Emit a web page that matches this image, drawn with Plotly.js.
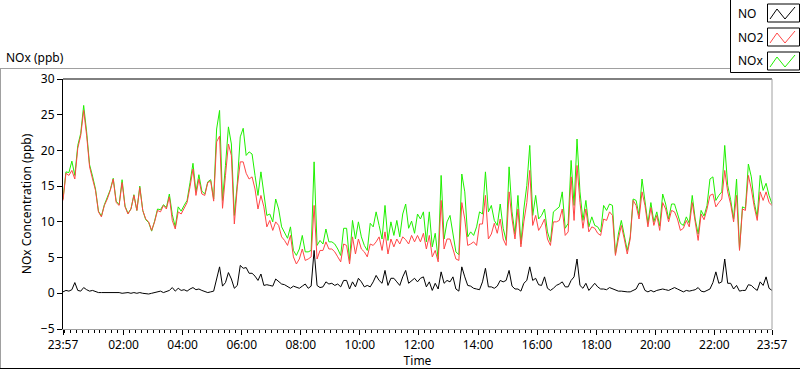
<!DOCTYPE html>
<html><head><meta charset="utf-8">
<script src="https://cdn.plot.ly/plotly-3.0.1.min.js"></script>
<style>html,body{margin:0;padding:0;background:#fff;overflow:hidden}#chart{width:800px;height:369px}</style>
</head><body><div id="chart"></div>
<script>
// ---- data (6-minute samples from 23:57 to 23:57 next day) ----
const startTime = Date.UTC(2000, 0, 1, 23, 57, 0);
const stepMinutes = 6;

const seriesNames = ['NO', 'NO2', 'NOx'];

const no = [
0.2,0.4,0.3,0.5,1.5,0.4,0.3,0.8,0.5,0.3,0.4,0.2,0.1,0.1,0.1,0.2,0.1,0.1,0.2,0.1,0.0,0.1,0.1,0.0,0.1,0.0,0.1,0.0,-0.1,-0.1,0.0,0.1,0.2,0.3,0.1,0.2,0.4,0.8,0.3,0.7,0.4,0.5,0.3,0.6,0.8,0.5,0.6,0.4,
0.2,0.1,0.2,0.3,2.0,3.7,1.0,1.5,2.9,2.0,0.7,1.1,3.9,3.5,3.6,2.8,2.8,2.4,1.8,2.7,1.1,1.2,1.1,1.0,2.0,1.7,1.3,1.2,1.0,0.7,1.0,0.8,0.7,1.0,1.3,0.7,1.0,6.0,1.1,0.8,0.9,1.6,1.3,1.4,1.1,1.3,0.9,1.8,
1.8,0.6,1.6,0.9,2.1,1.6,0.9,1.1,0.9,1.6,2.5,1.8,1.4,3.2,1.1,2.1,2.1,1.6,1.1,2.3,3.2,1.4,1.8,2.1,1.6,2.1,2.3,0.9,1.6,0.4,1.4,0.6,3.0,1.4,1.8,1.6,2.3,0.6,0.3,3.7,2.3,1.1,1.0,0.7,0.6,0.5,1.6,3.5,
0.9,0.9,0.7,1.0,1.8,1.6,1.8,3.2,1.0,0.6,0.6,0.3,1.4,1.8,3.7,1.8,2.1,1.2,1.1,2.3,0.7,0.4,0.7,1.1,1.3,1.6,0.9,0.9,1.8,2.3,4.8,1.1,0.7,1.4,0.4,0.9,1.4,0.9,0.6,0.6,0.5,0.8,0.6,0.4,0.3,0.3,0.2,0.2,
0.2,0.4,0.6,1.4,1.4,0.4,0.2,0.4,0.2,0.4,0.5,0.6,0.5,0.4,0.6,0.8,0.6,0.4,0.2,0.4,0.3,0.4,0.5,0.8,0.3,0.2,0.4,0.6,1.5,3.0,1.4,1.6,4.8,1.4,1.4,0.6,1.1,0.3,0.4,0.4,1.2,1.1,0.7,0.4,1.6,1.1,2.3,0.7,0.4
];

const no2 = [
13.0,16.8,16.5,17.2,16.0,20.3,22.1,25.6,22.1,17.7,16.0,14.4,11.4,10.7,12.3,13.2,14.4,16.0,12.7,12.3,15.5,12.1,11.1,11.8,13.7,11.6,14.8,11.6,10.4,10.0,8.8,10.0,11.6,11.4,12.3,11.8,13.5,10.2,9.0,11.4,11.1,11.8,12.7,14.9,17.4,13.7,16.0,13.9,
13.7,15.5,15.7,12.9,21.2,22.0,11.9,16.5,20.9,19.3,9.7,14.9,18.4,18.4,16.8,16.0,16.3,14.6,11.8,13.7,12.1,9.3,10.2,8.8,10.0,9.5,7.9,7.4,6.7,8.1,5.1,4.1,4.8,6.2,4.6,4.8,5.1,12.3,4.8,6.0,6.0,7.2,6.2,6.2,5.8,5.1,4.4,6.9,
6.7,4.1,7.9,5.5,7.6,6.2,5.8,5.1,6.9,6.7,7.2,7.9,6.0,8.6,5.5,7.6,6.5,7.6,6.9,7.9,7.5,6.9,8.1,7.2,8.1,7.2,8.4,6.2,8.1,5.1,6.0,4.4,13.0,6.2,7.6,7.6,6.2,4.8,4.6,12.7,10.4,6.7,6.9,7.2,6.7,9.7,9.7,13.7,
7.6,8.3,9.8,8.4,10.4,7.6,6.7,14.2,10.4,7.6,11.8,6.5,10.0,12.7,17.2,9.5,10.9,8.8,9.5,10.4,7.6,6.7,10.0,10.0,10.2,11.8,8.1,8.6,16.3,10.2,17.9,12.7,9.1,11.8,8.6,9.3,9.1,8.4,8.1,10.4,10.2,11.4,10.9,5.3,7.6,9.5,7.6,5.5,
7.6,13.0,12.3,10.4,14.2,12.3,9.3,12.0,9.5,10.9,8.8,12.7,11.8,10.0,11.6,11.4,10.4,8.8,9.1,10.2,9.3,12.7,10.0,7.4,11.1,10.3,11.8,13.7,13.9,12.1,12.7,13.2,17.2,14.2,12.5,10.0,13.7,6.0,11.8,11.6,16.5,14.6,12.1,10.2,14.2,13.0,14.2,12.7,12.3
];

const nox = [
13.2,17.0,16.9,18.5,16.5,20.7,22.4,26.3,22.6,18.0,16.4,14.6,11.5,10.8,12.4,13.4,14.5,16.1,12.9,12.4,15.9,12.2,11.2,11.8,13.8,11.6,15.0,11.6,10.3,9.9,8.7,10.1,11.8,11.7,12.4,12.0,13.9,11.0,9.3,12.1,11.5,12.3,13.0,15.5,18.2,14.2,16.6,14.3,
13.9,15.6,15.9,13.2,23.0,25.6,13.0,17.9,23.3,20.9,10.9,15.4,21.9,23.1,19.3,19.8,19.5,16.5,13.7,17.0,13.7,10.9,11.1,10.0,13.2,11.8,9.3,8.6,7.7,9.3,6.0,5.3,6.2,8.1,5.8,5.8,6.0,18.4,6.7,7.4,6.9,9.0,7.2,7.2,6.9,6.2,5.3,9.1,
9.1,4.6,10.2,7.6,10.0,7.9,6.7,6.0,9.8,9.3,11.4,9.5,7.6,12.3,7.4,10.0,8.1,10.2,7.9,11.1,12.5,9.1,10.1,8.4,11.1,10.4,11.4,7.2,11.4,6.5,8.4,4.8,16.5,7.6,10.0,10.9,8.1,5.8,5.4,16.7,14.2,7.9,8.6,8.1,9.3,11.4,11.1,17.0,
11.4,12.3,10.2,9.5,12.5,9.1,7.4,17.7,11.4,8.3,13.7,6.9,11.8,15.1,20.7,10.9,13.7,10.4,10.9,11.8,8.6,7.2,11.4,11.8,12.1,14.2,9.1,9.8,18.6,12.3,21.6,14.2,10.2,13.0,9.3,10.7,9.5,9.3,8.6,12.3,11.6,12.5,12.3,5.5,8.3,10.2,8.3,6.0,
7.9,13.2,13.0,10.9,16.0,13.0,9.8,12.7,10.0,11.4,9.4,13.9,12.5,10.4,12.5,12.5,11.1,9.8,9.5,10.7,9.8,13.7,10.4,8.3,11.6,10.8,12.3,16.0,16.3,13.0,13.7,14.2,20.7,15.1,13.1,10.4,16.0,6.2,12.1,11.9,18.1,16.3,12.7,10.7,16.5,14.4,15.4,13.7,12.5
];

const tickTimes = ['2000-01-01 23:57','2000-01-02 02:00','2000-01-02 04:00','2000-01-02 06:00','2000-01-02 08:00','2000-01-02 10:00','2000-01-02 12:00','2000-01-02 14:00','2000-01-02 16:00','2000-01-02 18:00','2000-01-02 20:00','2000-01-02 22:00','2000-01-02 23:57'];
const tickLabels = ['23:57','02:00','04:00','06:00','08:00','10:00','12:00','14:00','16:00','18:00','20:00','22:00','23:57'];
const yTicks = [-5, 0, 5, 10, 15, 20, 25, 30];

// ---- helpers ----
function fmt(ms) { return new Date(ms).toISOString().replace('T', ' ').slice(0, 19); }
const times = no.map((_, i) => fmt(startTime + i * stepMinutes * 60000));

const FONT = 'Noto Sans, Open Sans, sans-serif';
const L = 63, T = 79, W = 709, H = 250;
const px = x => (x - L) / W;
const py = y => (T + H - y) / H;

const colors = { NO: '#000000', NO2: '#ff4646', NOx: '#1ff000' };

const traces = [
  { x: times, y: nox, name: seriesNames[2], type: 'scatter', mode: 'lines', line: { color: colors.NOx, width: 1 }, hoverinfo: 'skip' },
  { x: times, y: no2, name: seriesNames[1], type: 'scatter', mode: 'lines', line: { color: colors.NO2, width: 1 }, hoverinfo: 'skip' },
  { x: times, y: no, name: seriesNames[0], type: 'scatter', mode: 'lines', line: { color: colors.NO, width: 1 }, hoverinfo: 'skip' }
];

// custom legend (text left, framed zig-zag sample right)
const shapes = [];
const annotations = [];
const legendRows = [ { name: seriesNames[0], c: colors.NO, y: 4 }, { name: seriesNames[1], c: colors.NO2, y: 28 }, { name: seriesNames[2], c: colors.NOx, y: 52 } ];
legendRows.forEach(r => {
  shapes.push({ type: 'rect', xref: 'paper', yref: 'paper', x0: px(767.5), x1: px(799.5), y0: py(r.y), y1: py(r.y + 18), line: { color: '#000', width: 1 } });
  const p = [[770, r.y + 15], [777, r.y + 5], [785, r.y + 15], [795, r.y + 3]];
  shapes.push({ type: 'path', xref: 'paper', yref: 'paper', path: 'M' + p.map(q => px(q[0]) + ',' + py(q[1])).join(' L'), line: { color: r.c, width: 1 } });
  annotations.push({ xref: 'paper', yref: 'paper', x: px(736), y: py(r.y + 9), xanchor: 'left', yanchor: 'middle', text: r.name, showarrow: false, font: { family: FONT, size: 12, color: '#000' } });
});
// legend frame
shapes.push({ type: 'rect', xref: 'paper', yref: 'paper', x0: px(730.5), x1: px(800.5), y0: py(72.5), y1: py(-1), line: { color: '#000', width: 1 } });
// outer panel frame
shapes.push({ type: 'line', xref: 'paper', yref: 'paper', x0: px(0), x1: px(730), y0: py(68.5), y1: py(68.5), line: { color: '#a0a0a0', width: 1 } });
shapes.push({ type: 'line', xref: 'paper', yref: 'paper', x0: px(0.5), x1: px(0.5), y0: py(68.5), y1: py(368), line: { color: '#a0a0a0', width: 1 } });
shapes.push({ type: 'line', xref: 'paper', yref: 'paper', x0: px(0), x1: px(800), y0: py(368.5), y1: py(368.5), line: { color: '#000', width: 1 } });
// plot frame top (black) and right (gray)
shapes.push({ type: 'line', xref: 'paper', yref: 'paper', x0: 0, x1: 1, y0: 1, y1: 1, line: { color: '#000', width: 1 } });
shapes.push({ type: 'line', xref: 'paper', yref: 'paper', x0: 1, x1: 1, y0: 0, y1: 1, line: { color: '#a0a0a0', width: 1 } });

annotations.push({ xref: 'paper', yref: 'paper', x: px(4), y: py(58), xanchor: 'left', yanchor: 'middle', text: 'NOx (ppb)', showarrow: false, font: { family: FONT, size: 12, color: '#000' } });

const layout = {
  width: 800, height: 369,
  margin: { l: L, r: 800 - L - W, t: T, b: 369 - T - H, pad: 0 },
  paper_bgcolor: '#fff', plot_bgcolor: '#fff',
  showlegend: false,
  font: { family: FONT, size: 12, color: '#000' },
  xaxis: {
    type: 'date', range: [tickTimes[0], tickTimes[tickTimes.length - 1]],
    tickmode: 'array', tickvals: tickTimes, ticktext: tickLabels,
    ticks: 'outside', ticklen: 5, tickwidth: 1, tickcolor: '#000',
    minor: { tickmode: 'linear', tick0: '2000-01-02 00:00', dtick: 12 * 60000, ticks: 'outside', ticklen: 3, tickcolor: '#000', showgrid: false },
    showline: true, linecolor: '#a0a0a0', linewidth: 1,
    showgrid: false, zeroline: false,
    tickfont: { family: FONT, size: 12, color: '#000' },
    title: { text: 'Time', font: { family: FONT, size: 12, color: '#000' }, standoff: 4 }
  },
  yaxis: {
    range: [-5, 30], tickmode: 'array', tickvals: yTicks,
    ticks: 'outside', ticklen: 5, tickwidth: 1, tickcolor: '#000',
    showline: true, linecolor: '#000', linewidth: 1,
    showgrid: false, zeroline: false,
    tickfont: { family: FONT, size: 12, color: '#000' },
    title: { text: 'NOx Concentration (ppb)', font: { family: FONT, size: 12, color: '#000' }, standoff: 6 }
  },
  shapes: shapes,
  annotations: annotations
};

Plotly.newPlot('chart', traces, layout, { staticPlot: true, displayModeBar: false });
</script>
</body></html>
